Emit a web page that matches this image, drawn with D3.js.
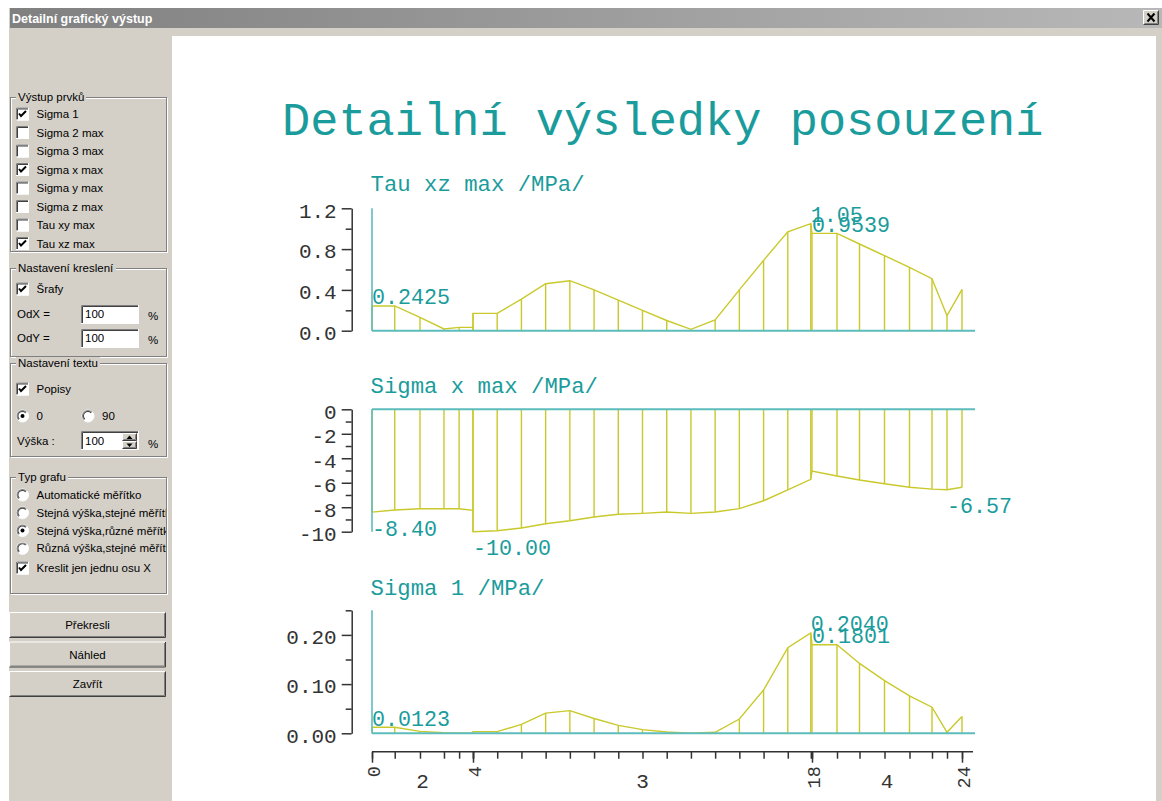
<!DOCTYPE html>
<html>
<head>
<meta charset="utf-8">
<script src="https://cdn.jsdelivr.net/npm/d3@7"></script>
<style>
  body { margin: 0; background: #fff; overflow: hidden; }
  svg { display: block; }
</style>
</head>
<body>
<svg id="chart"></svg>
<script>
// ---- data ----
// stations along the beam (node numbering, doubled where the values jump)
const stations = [0, 0.9, 1.9, 2.85, 3.45, 4, 4, 5, 6, 7, 8, 9, 10, 11, 12, 13, 14, 15, 16, 17, 17.95, 18, 19, 19.9, 20.9, 21.9, 22.8, 23.4, 24];
const tauValues = [0.2425, 0.2425, 0.131, 0.017, 0.033, 0.033, 0.17, 0.17, 0.31, 0.46, 0.49, 0.40, 0.30, 0.20, 0.10, 0.013, 0.105, 0.40, 0.69, 0.97, 1.05, 0.9539, 0.9539, 0.85, 0.735, 0.62, 0.51, 0.147, 0.405];
const sigmaXValues = [-8.40, -8.23, -8.12, -8.12, -8.12, -8.25, -10.0, -9.92, -9.70, -9.35, -9.10, -8.80, -8.58, -8.50, -8.39, -8.50, -8.39, -8.12, -7.47, -6.59, -5.72, -5.04, -5.45, -5.78, -6.08, -6.37, -6.52, -6.57, -6.37];
const sigma1Values = [0.0123, 0.0123, 0.004, 0.001, 0, 0, 0.0034, 0.0034, 0.018, 0.041, 0.046, 0.030, 0.016, 0.0074, 0.0027, 0, 0.002, 0.029, 0.088, 0.174, 0.2040, 0.1801, 0.1801, 0.142, 0.107, 0.076, 0.053, 0.002, 0.034];

// [station index, text]
const tauLabels = [[0, "0.2425"], [20, "1.05"], [21, "0.9539"]];
const sigmaXLabels = [[0, "-8.40"], [6, "-10.00"], [27, "-6.57"]];
const sigma1Labels = [[0, "0.0123"], [20, "0.2040"], [21, "0.1801"]];

const tauTicks = [0, 0.4, 0.8, 1.2], tauMinor = [0.2, 0.6, 1.0];
const sigmaXTicks = [0, -2, -4, -6, -8, -10], sigmaXMinor = [-1, -3, -5, -7, -9];
const sigma1Ticks = [0, 0.1, 0.2], sigma1Minor = [0.05, 0.15, 0.25];

const nodes = [0, 4, 18, 24];
const nodeLabels = ["0", "4", "18", "24"];
const spanLabels = ["2", "3", "4"];

const mainTitle = "Detailní výsledky posouzení";
const windowTitle = "Detailní grafický výstup";

// left panel texts
const outputItems = ["Sigma 1", "Sigma 2 max", "Sigma 3 max", "Sigma x max", "Sigma y max", "Sigma z max", "Tau xy max", "Tau xz max"];
const outputChecked = [true, false, false, true, false, false, false, true];
const graphTypes = ["Automatické měřítko", "Stejná výška,stejné měřítko", "Stejná výška,různé měřítko", "Různá výška,stejné měřítko"];
const graphTypeSelected = 2;
const buttons = ["Překresli", "Náhled", "Zavřít"];

// ---- setup ----
const W = 1162, H = 801;
const svg = d3.select("#chart").attr("width", W).attr("height", H);
const TEAL_TXT = "#1a9c9c", TEAL_AX = "#5dbdbd", YEL = "#c9c92c", FACE = "#d4d0c8";
const MONO = "'Liberation Mono', 'Courier New', monospace";
const UI = "'Liberation Sans', Arial, sans-serif";

// window frame
svg.append("rect").attr("x", 0).attr("y", 0).attr("width", W).attr("height", H).attr("fill", "#fff");
svg.append("rect").attr("x", 9).attr("y", 8).attr("width", W - 9).attr("height", H - 8).attr("fill", FACE);

let grad = svg.append("defs").append("linearGradient").attr("id", "tb");
grad.append("stop").attr("offset", "0").attr("stop-color", "#808080");
grad.append("stop").attr("offset", "1").attr("stop-color", "#b8b8b8");
svg.append("rect").attr("x", 10).attr("y", 8).attr("width", W - 10).attr("height", 20).attr("fill", "url(#tb)");
svg.append("text").attr("x", 12).attr("y", 22.5).text(windowTitle)
  .style("font-family", UI).style("font-weight", "bold").style("font-size", "12.5px").attr("fill", "#fff");

// close button
function raised(g, x, y, w, h) {
  g.append("rect").attr("x", x).attr("y", y).attr("width", w).attr("height", h).attr("fill", FACE);
  g.append("path").attr("d", `M${x+0.5},${y+h-0.5}V${y+0.5}H${x+w-0.5}`).attr("stroke", "#fff").attr("fill", "none");
  g.append("path").attr("d", `M${x+0.5},${y+h-0.5}H${x+w-0.5}V${y+0.5}`).attr("stroke", "#404040").attr("fill", "none");
  g.append("path").attr("d", `M${x+1.5},${y+h-1.5}H${x+w-1.5}V${y+1.5}`).attr("stroke", "#808080").attr("fill", "none");
}
raised(svg, 1143, 10, 16, 15);
svg.append("path").attr("d", "M1147.5,13.5L1154.5,21.5M1154.5,13.5L1147.5,21.5").attr("stroke", "#000").attr("stroke-width", 2);

// white drawing area
svg.append("rect").attr("x", 172).attr("y", 36).attr("width", 984).attr("height", H - 36).attr("fill", "#fff");

// ---- left panel widgets ----
const panel = svg.append("g").style("font-family", UI).style("font-size", "11.5px");

function groupBox(x, y, w, h, label, lw) {
  panel.append("rect").attr("x", x + 1.5).attr("y", y + 1.5).attr("width", w - 1).attr("height", h - 1).attr("fill", "none").attr("stroke", "#fff");
  panel.append("rect").attr("x", x + 0.5).attr("y", y + 0.5).attr("width", w - 1).attr("height", h - 1).attr("fill", "none").attr("stroke", "#808080");
  panel.append("rect").attr("x", x + 6).attr("y", y - 6).attr("width", lw).attr("height", 12).attr("fill", FACE);
  panel.append("text").attr("x", x + 8).attr("y", y + 4).text(label);
}
function sunken(x, y, w, h) {
  panel.append("rect").attr("x", x).attr("y", y).attr("width", w).attr("height", h).attr("fill", "#fff");
  panel.append("path").attr("d", `M${x+0.5},${y+h}V${y+0.5}H${x+w}`).attr("stroke", "#808080").attr("fill", "none");
  panel.append("path").attr("d", `M${x+1.5},${y+h-1}V${y+1.5}H${x+w-1}`).attr("stroke", "#404040").attr("fill", "none");
  panel.append("path").attr("d", `M${x},${y+h-0.5}H${x+w-0.5}V${y}`).attr("stroke", "#fff").attr("fill", "none");
}
function checkbox(cx, cy, checked, label) {
  sunken(cx - 6.5, cy - 6.5, 13, 13);
  if (checked) panel.append("path").attr("d", `M${cx-3.5},${cy-0.5}L${cx-1.5},${cy+2}L${cx+3.5},${cy-3}`)
    .attr("stroke", "#000").attr("stroke-width", 2).attr("fill", "none");
  if (label) panel.append("text").attr("x", cx + 14).attr("y", cy + 4).text(label);
}
function radio(cx, cy, checked, label, clip) {
  panel.append("circle").attr("cx", cx).attr("cy", cy).attr("r", 6).attr("fill", "#fff").attr("stroke", "#fff");
  panel.append("path").attr("d", d3.arc()({innerRadius: 5, outerRadius: 6, startAngle: -Math.PI * 0.75, endAngle: Math.PI * 0.25})).attr("transform", `translate(${cx},${cy})`).attr("fill", "#808080");
  panel.append("path").attr("d", d3.arc()({innerRadius: 4, outerRadius: 5, startAngle: -Math.PI * 0.75, endAngle: Math.PI * 0.25})).attr("transform", `translate(${cx},${cy})`).attr("fill", "#404040");
  if (checked) panel.append("circle").attr("cx", cx).attr("cy", cy).attr("r", 2).attr("fill", "#000");
  if (label) panel.append("text").attr("x", cx + 14).attr("y", cy + 4).text(label).attr("clip-path", clip || null);
}

panel.append("defs").append("clipPath").attr("id", "gclip")
  .append("rect").attr("x", 10).attr("y", 470).attr("width", 156).attr("height", 130);

groupBox(10, 97, 157, 155, "Výstup prvků", 70);
outputItems.forEach((t, i) => checkbox(22.5, 114 + i * 18.5, outputChecked[i], t));

groupBox(10, 268, 157, 89, "Nastavení kreslení", 100);
checkbox(22.5, 289, true, "Šrafy");
panel.append("text").attr("x", 17).attr("y", 318).text("OdX =");
sunken(81, 305, 58, 19);
panel.append("text").attr("x", 85).attr("y", 318).text("100");
panel.append("text").attr("x", 148).attr("y", 320).text("%");
panel.append("text").attr("x", 17).attr("y", 342).text("OdY =");
sunken(81, 329, 58, 19);
panel.append("text").attr("x", 85).attr("y", 342).text("100");
panel.append("text").attr("x", 148).attr("y", 344).text("%");

groupBox(10, 363, 157, 94, "Nastavení textu", 84);
checkbox(22.5, 389, true, "Popisy");
radio(22.5, 416, true, "0");
radio(88, 416, false, "90");
panel.append("text").attr("x", 17).attr("y", 445).text("Výška :");
sunken(81, 431, 58, 19);
panel.append("text").attr("x", 85).attr("y", 445).text("100");
raised(panel, 122, 433, 15, 8);
raised(panel, 122, 441, 15, 8);
panel.append("path").attr("d", "M126.5,439L129.5,435.5L132.5,439Z M126.5,443.5L129.5,447L132.5,443.5Z").attr("fill", "#000");
panel.append("text").attr("x", 148).attr("y", 448).text("%");

groupBox(10, 477, 157, 117, "Typ grafu", 52);
graphTypes.forEach((t, i) => radio(22.5, 495 + i * 17.8, i === graphTypeSelected, t, "url(#gclip)"));
checkbox(22.5, 568, true, "Kreslit jen jednu osu X");

buttons.forEach((t, i) => {
  const y = 612 + i * 29.5;
  raised(panel, 9, y, 157, 26);
  panel.append("text").attr("x", 87.5).attr("y", y + 17).attr("text-anchor", "middle").text(t);
});

// ---- chart ----
const x = d3.scaleLinear().domain(nodes).range([372, 473, 812, 962]);
const xEnd = x.range()[3] + 13;

svg.append("text").attr("x", 282).attr("y", 135).text(mainTitle)
  .style("font-family", MONO).style("font-size", "47px").attr("fill", TEAL_TXT);

const panels = [
  {title: "Tau xz max /MPa/", titleY: 190.5, values: tauValues, labels: tauLabels,
   domain: [0, 1.2], range: [330.7, 208.3], ticks: tauTicks, minor: tauMinor, fmt: d3.format(".1f")},
  {title: "Sigma x max /MPa/", titleY: 392.5, values: sigmaXValues, labels: sigmaXLabels,
   domain: [-10, 0], range: [531.7, 409.3], ticks: sigmaXTicks, minor: sigmaXMinor, fmt: d => String(d)},
  {title: "Sigma 1 /MPa/", titleY: 595, values: sigma1Values, labels: sigma1Labels,
   domain: [0, 0.25], range: [733.3, 610.3], ticks: sigma1Ticks, minor: sigma1Minor, fmt: d3.format(".2f")}
];

panels.forEach(p => {
  const y = d3.scaleLinear().domain(p.domain).range(p.range);
  const g = svg.append("g");

  g.append("text").attr("x", 370.5).attr("y", p.titleY).text(p.title)
    .style("font-family", MONO).style("font-size", "22.3px").attr("fill", TEAL_TXT);

  // black value axis
  const ax = g.append("g").attr("transform", "translate(351.7,0)")
    .call(d3.axisLeft(y).tickValues(p.ticks).tickSize(10).tickSizeOuter(0).tickPadding(5).tickFormat(p.fmt));
  ax.append("g").call(d3.axisLeft(y).tickValues(p.minor).tickSize(6).tickFormat(""))
    .select(".domain").remove();
  ax.attr("font-family", MONO).attr("font-size", 21);
  ax.selectAll("line, path").attr("stroke", "#333").attr("stroke-width", 1.5);
  ax.selectAll("text").attr("fill", "#333").attr("dy", "0.42em");

  // hatching
  g.selectAll("line.h").data(p.values).join("line")
    .attr("x1", (d, i) => x(stations[i])).attr("x2", (d, i) => x(stations[i]))
    .attr("y1", y(0)).attr("y2", d => y(d))
    .attr("stroke", YEL).attr("stroke-width", 1.4);

  const line = d3.line().x((d, i) => x(stations[i])).y(d => y(d));
  g.append("path").attr("d", line(p.values)).attr("fill", "none").attr("stroke", YEL).attr("stroke-width", 1.4);

  // teal axes
  g.append("line").attr("x1", x(0)).attr("x2", x(0)).attr("y1", p.range[0]).attr("y2", p.range[1])
    .attr("stroke", TEAL_AX).attr("stroke-width", 1.6);
  g.append("line").attr("x1", x(0)).attr("x2", xEnd).attr("y1", y(0)).attr("y2", y(0))
    .attr("stroke", TEAL_AX).attr("stroke-width", 2);

  // value labels
  g.selectAll("text.v").data(p.labels).join("text")
    .attr("x", d => x(stations[d[0]]))
    .attr("y", d => p.values[d[0]] >= 0 ? y(p.values[d[0]]) - 1.5 : y(p.values[d[0]]) + 23.5)
    .text(d => d[1])
    .style("font-family", MONO).style("font-size", "21.7px").attr("fill", TEAL_TXT);
});

// x axis
const xa = svg.append("g").attr("transform", "translate(0,751.7)");
xa.append("line").attr("x1", x(0)).attr("x2", xEnd - 2).attr("stroke", "#333").attr("stroke-width", 1.5);
xa.append("g").call(d3.axisBottom(x).tickValues(stations).tickSize(7).tickFormat(""))
  .call(s => s.select(".domain").remove());
xa.append("g").call(d3.axisBottom(x).tickValues(nodes).tickSize(11).tickFormat(""))
  .call(s => s.select(".domain").remove());
xa.selectAll("line").attr("stroke", "#333").attr("stroke-width", 1.5);

xa.selectAll("text.node").data(nodes).join("text")
  .attr("transform", d => `translate(${x(d) + 1},14.5) rotate(-90)`)
  .attr("text-anchor", "end").attr("dy", "0.36em")
  .text((d, i) => nodeLabels[i])
  .style("font-family", MONO).style("font-size", "18.5px").attr("fill", "#333");

xa.selectAll("text.span").data(spanLabels).join("text")
  .attr("x", (d, i) => (x(nodes[i]) + x(nodes[i + 1])) / 2)
  .attr("y", 36.5).attr("text-anchor", "middle").text(d => d)
  .style("font-family", MONO).style("font-size", "21px").attr("fill", "#333");
</script>
</body>
</html>
